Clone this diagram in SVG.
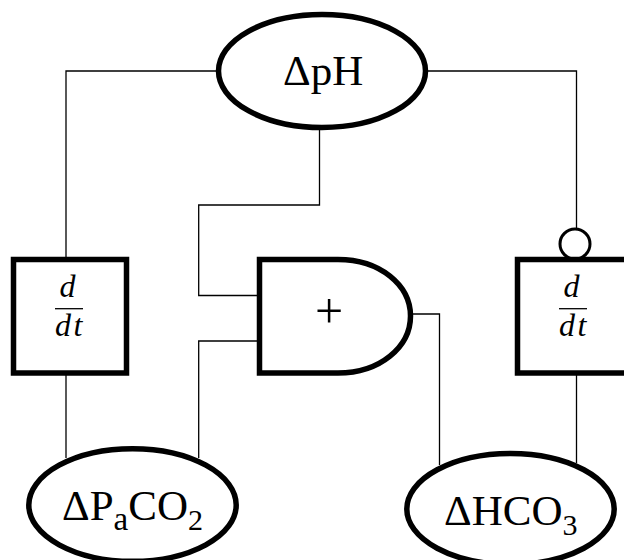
<svg xmlns="http://www.w3.org/2000/svg" width="624" height="560" viewBox="0 0 624 560">
<style>
.n{fill:#fff;stroke:#000;stroke-width:5.500}
.c{fill:none;stroke:#000;stroke-width:1.300}
text{font-family:"Liberation Serif","Times New Roman",serif;fill:#000}
.t{font-size:43px}
.s{font-size:33px}
.u{font-size:30px}
.f{font-size:32px;font-style:italic}
.r{stroke:#000;stroke-width:1.300}
</style>
<rect width="624" height="560" fill="#fff"/>
<g id="connectors">
<path class="c" d="M216 71H66V257"/>
<path class="c" d="M428 71H576.500V229"/>
<path class="c" d="M319.500 130V205H198.700V295.500H257"/>
<path class="c" d="M257 341H198.700V458"/>
<path class="c" d="M66 375V458"/>
<path class="c" d="M413 314H439.500V465"/>
<path class="c" d="M576.500 375V463"/>
</g>
<g id="node-ph">
<ellipse class="n" cx="322" cy="71" rx="103.500" ry="56.500"/>
<text class="t" x="283" y="85">ΔpH</text>
</g>
<g id="node-ddt-left">
<rect class="n" x="13.500" y="259.500" width="113" height="113.500"/>
<text class="f" x="59.500" y="297">d</text>
<line class="r" x1="55" y1="308.700" x2="83" y2="308.700"/>
<text class="f" x="55" y="336" letter-spacing="2.500">dt</text>
</g>
<g id="node-sum">
<path class="n" d="M259.500 259.500H338C380 259.500 410.500 285 410.500 316C410.500 347 380 373 338 373H259.500Z"/>
<text x="329" y="328.300" font-size="50" text-anchor="middle">+</text>
</g>
<g id="node-ddt-right">
<circle cx="575" cy="244" r="15" fill="#fff" stroke="#000" stroke-width="3"/>
<rect class="n" x="517.500" y="259.500" width="116" height="113.500"/>
<text class="f" x="563.500" y="297">d</text>
<line class="r" x1="559" y1="308.700" x2="587" y2="308.700"/>
<text class="f" x="559" y="336" letter-spacing="2.500">dt</text>
</g>
<g id="node-paco2">
<ellipse class="n" cx="132.500" cy="505" rx="103.700" ry="56.300"/>
<text class="t" x="62" y="520">ΔP<tspan class="s" dy="10">a</tspan><tspan dy="-10">CO</tspan><tspan class="u" dy="10">2</tspan></text>
</g>
<g id="node-hco3">
<ellipse class="n" cx="510.500" cy="509" rx="103.700" ry="55.500"/>
<text class="t" x="444" y="525">ΔHCO<tspan class="u" dy="10">3</tspan></text>
</g>
</svg>
